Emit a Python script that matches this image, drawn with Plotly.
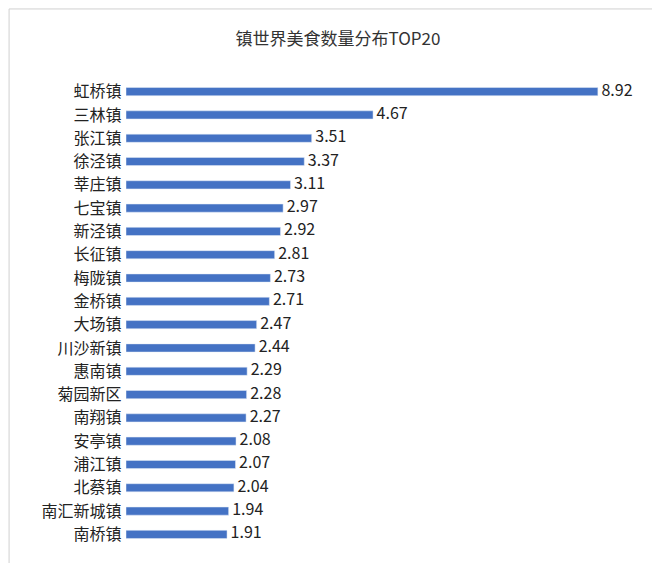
import plotly.graph_objects as go

towns = ["虹桥镇","三林镇","张江镇","徐泾镇","莘庄镇","七宝镇","新泾镇","长征镇","梅陇镇","金桥镇",
         "大场镇","川沙新镇","惠南镇","菊园新区","南翔镇","安亭镇","浦江镇","北蔡镇","南汇新城镇","南桥镇"]
values = [8.92,4.67,3.51,3.37,3.11,2.97,2.92,2.81,2.73,2.71,2.47,2.44,2.29,2.28,2.27,2.08,2.07,2.04,1.94,1.91]

font = "Noto Sans CJK SC"
fig = go.Figure()
fig.add_trace(go.Bar(x=values, y=towns, orientation="h", marker_color="#4472C4"))
fig.add_trace(go.Scatter(
    x=values, y=towns, mode="text", text=[f" {v:.2f}" for v in values],
    textposition="middle right", textfont=dict(size=16, color="#222", family=font),
    cliponaxis=False,
))
fig.update_layout(
    width=660, height=563, plot_bgcolor="white", paper_bgcolor="white",
    margin=dict(l=118, r=13, t=59, b=12),
    bargap=0.65, showlegend=False,
    title=dict(text="镇世界美食数量分布TOP20", x=0.5, xanchor="center", y=0.955,
               font=dict(size=17, color="#333", family=font)),
    xaxis=dict(range=[0, 10], visible=False, automargin=False),
    yaxis=dict(autorange="reversed", tickfont=dict(size=16, color="#222", family=font),
               showline=False, showgrid=False, ticks="", ticksuffix=" ", automargin=False),
    shapes=[dict(type="rect", xref="paper", yref="paper", x0=-0.221, x1=1.023, y0=-0.022, y1=1.118,
                 line=dict(color="#d0d0d0", width=1))],
)
fig.write_html("out.html")
